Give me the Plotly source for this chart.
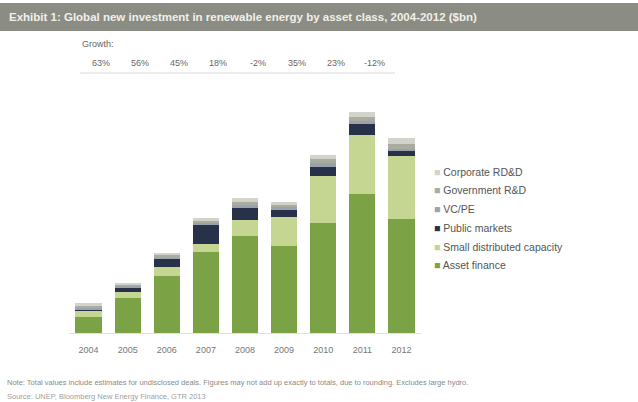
import plotly.graph_objects as go

years = ["2004", "2005", "2006", "2007", "2008", "2009", "2010", "2011", "2012"]
asset_finance = [20, 44, 72, 102, 122, 110, 139, 175, 144]
small_distributed = [9, 8, 11, 11, 21, 37, 59, 75, 80]
public_markets = [1, 6, 10.5, 23, 15, 9, 12, 14.5, 6]
vc_pe = [1, 1.5, 2, 3.5, 4, 2.5, 4.5, 3, 2.5]
gov_rd = [3, 1.5, 2.5, 2.5, 3.5, 3, 5, 5.5, 6.5]
corp_rdd = [4, 2, 3, 3, 4.5, 3.5, 5.5, 6, 7]
growth = ["63%", "56%", "45%", "18%", "-2%", "35%", "23%", "-12%"]

series = [
    ("Asset finance", asset_finance, "#7ba345"),
    ("Small distributed capacity", small_distributed, "#c5d592"),
    ("Public markets", public_markets, "#27324a"),
    ("VC/PE", vc_pe, "#9aa3ad"),
    ("Government R&D", gov_rd, "#aaaca0"),
    ("Corporate RD&D", corp_rdd, "#d2d3ca"),
]

xs = list(range(len(years)))
fig = go.Figure()
for name, vals, col in series:
    fig.add_trace(go.Bar(x=xs, y=vals, name=name, showlegend=False,
                         marker=dict(color=col, line=dict(width=0))))

L, T, B = 69, 100, 69
W_PLOT = 352
H_PLOT = 402 - T - B

def px_x(p):
    return (p - L) / W_PLOT

def px_y(p):
    return (402 - B - p) / H_PLOT

ann = []
ann.append(dict(x=px_x(80), y=px_y(44), xref="paper", yref="paper", text="Growth:",
                showarrow=False, xanchor="left", yanchor="middle",
                font=dict(size=9, color="#666666")))
for i, g in enumerate(growth):
    ann.append(dict(x=i + 0.32, y=px_y(63), xref="x", yref="paper", text=g,
                    showarrow=False, xanchor="center", yanchor="middle",
                    font=dict(size=9, color="#666666")))
ann.append(dict(x=px_x(7), y=px_y(17), xref="paper", yref="paper",
                text="<b>Exhibit 1: Global new investment in renewable energy by asset class, 2004-2012 ($bn)</b>",
                showarrow=False, xanchor="left", yanchor="middle",
                font=dict(size=11.5, color="#f0f0ea")))
ann.append(dict(x=px_x(5), y=px_y(382), xref="paper", yref="paper",
                text="Note: Total values include estimates for undisclosed deals. Figures may not add up exactly to totals, due to rounding. Excludes large hydro.",
                showarrow=False, xanchor="left", yanchor="middle",
                font=dict(size=7.5, color="#8a8a8a")))
ann.append(dict(x=px_x(5), y=px_y(396), xref="paper", yref="paper",
                text="Source: UNEP, Bloomberg New Energy Finance, GTR 2013",
                showarrow=False, xanchor="left", yanchor="middle",
                font=dict(size=7.5, color="#a0a0a0")))

# legend (top to bottom, reversed stacking order)
leg_rows = [172, 190, 209, 228, 247, 265]
for (name, vals, col), ry in zip(reversed(series), leg_rows):
    ann.append(dict(x=px_x(432), y=px_y(ry), xref="paper", yref="paper",
                    text='<span style="color:%s">■</span> %s' % (col, name),
                    showarrow=False, xanchor="left", yanchor="middle",
                    font=dict(size=10.5, color="#555555")))

shapes = [
    dict(type="rect", xref="paper", yref="paper", x0=px_x(0), x1=px_x(638),
         y0=px_y(31), y1=px_y(3), fillcolor="#8b8c83", line=dict(width=0), layer="below"),
    dict(type="line", xref="paper", yref="paper", x0=px_x(80), x1=px_x(395),
         y0=px_y(73), y1=px_y(73), line=dict(color="#d8d8d8", width=1)),
]

fig.update_layout(
    width=638, height=402,
    margin=dict(l=L, r=638 - L - W_PLOT, t=T, b=B),
    paper_bgcolor="white", plot_bgcolor="white",
    barmode="stack", bargap=0.33,
    font=dict(family="Liberation Sans, Arial, sans-serif", color="#666666"),
    xaxis=dict(tickmode="array", tickvals=xs, ticktext=years, range=[-0.5, 8.5],
               showgrid=False, zeroline=False, showline=True, linecolor="#dde3cc",
               ticks="", ticklabelstandoff=8, tickfont=dict(size=9, color="#777777")),
    yaxis=dict(range=[0, H_PLOT / 0.792], showgrid=False, zeroline=False,
               showticklabels=False, ticks="", showline=False),
    showlegend=False,
    annotations=ann, shapes=shapes,
)

fig.write_html("out.html")
